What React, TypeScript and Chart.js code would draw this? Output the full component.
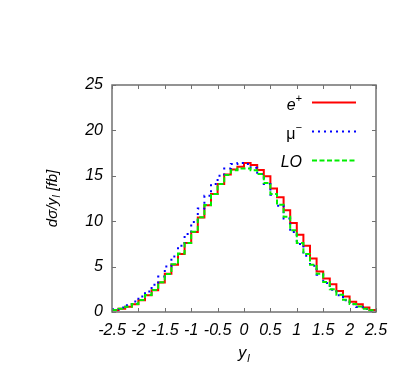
import React, { useEffect, useRef } from "react";
import { Chart, registerables } from "chart.js";

Chart.register(...registerables);

// Bin edges (width 0.125) from -2.5 to 2.5
const binEdges = [
  -2.5, -2.375, -2.25, -2.125, -2.0, -1.875, -1.75, -1.625, -1.5, -1.375,
  -1.25, -1.125, -1.0, -0.875, -0.75, -0.625, -0.5, -0.375, -0.25, -0.125,
  0.0, 0.125, 0.25, 0.375, 0.5, 0.625, 0.75, 0.875, 1.0, 1.125,
  1.25, 1.375, 1.5, 1.625, 1.75, 1.875, 2.0, 2.125, 2.25, 2.375, 2.5,
];

const ePlus = [
  0.2, 0.35, 0.57, 0.86, 1.3, 1.85, 2.4, 3.25, 4.2, 5.2,
  6.4, 7.6, 8.8, 10.4, 11.75, 13.0, 14.1, 15.15, 15.7, 16.0,
  16.4, 16.2, 15.65, 14.95, 13.6, 12.65, 11.2, 9.8, 8.5, 7.3,
  5.9, 4.45, 3.7, 3.05, 2.3, 1.72, 1.12, 0.85, 0.5, 0.22,
];

const muMinus = [
  0.3, 0.5, 0.75, 1.15, 1.7, 2.25, 3.0, 3.9, 5.0, 6.1,
  7.3, 8.6, 9.9, 11.4, 12.8, 14.1, 15.0, 15.8, 16.3, 16.4,
  16.3, 15.9, 15.2, 14.1, 12.9, 11.7, 10.3, 8.8, 7.5, 6.2,
  5.1, 4.1, 3.2, 2.45, 1.85, 1.3, 0.85, 0.55, 0.33, 0.15,
];

const lo = [
  0.22, 0.37, 0.59, 0.88, 1.32, 1.87, 2.42, 3.27, 4.19, 5.25,
  6.43, 7.6, 8.85, 10.43, 11.78, 13.0, 14.1, 15.1, 15.6, 15.8,
  15.8, 15.6, 15.2, 14.2, 13.0, 11.8, 10.5, 9.0, 7.6, 6.4,
  5.2, 4.2, 3.3, 2.5, 1.9, 1.35, 0.88, 0.6, 0.36, 0.18,
];

const xTickValues = [-2.5, -2, -1.5, -1, -0.5, 0, 0.5, 1, 1.5, 2, 2.5];
const xTickLabels = ["-2.5", "-2", "-1.5", "-1", "-0.5", "0", "0.5", "1", "1.5", "2", "2.5"];
const yTickValues = [0, 5, 10, 15, 20, 25];
const yTickLabels = ["0", "5", "10", "15", "20", "25"];

const legendNames = ["e", "\u03bc", "LO"];
const legendSups = ["+", "\u2212", ""];
const legendItalic = [true, false, true];

const FONT_FAMILY = '"Liberation Sans", Arial, Helvetica, sans-serif';

function toSteps(values: number[]) {
  return binEdges.map((x, i) => ({ x, y: values[Math.min(i, values.length - 1)] }));
}

const framePlugin = {
  id: "gnuFrame",
  afterDatasetsDraw(chart: any) {
    const { ctx, chartArea, scales } = chart;
    const { left, right, top, bottom } = chartArea;
    const xs = scales.x;
    const ys = scales.y;
    ctx.save();
    // frame
    ctx.strokeStyle = "#707070";
    ctx.lineWidth = 1.5;
    ctx.setLineDash([]);
    ctx.strokeRect(left, top, right - left, bottom - top);
    // inward ticks
    const tl = 4;
    ctx.beginPath();
    xTickValues.forEach((v) => {
      const px = Math.round(xs.getPixelForValue(v)) + 0.5;
      ctx.moveTo(px, bottom);
      ctx.lineTo(px, bottom - tl);
      ctx.moveTo(px, top);
      ctx.lineTo(px, top + tl);
    });
    yTickValues.forEach((v) => {
      const py = Math.round(ys.getPixelForValue(v)) + 0.5;
      ctx.moveTo(left, py);
      ctx.lineTo(left + tl, py);
      ctx.moveTo(right, py);
      ctx.lineTo(right - tl, py);
    });
    ctx.lineWidth = 1;
    ctx.stroke();

    ctx.fillStyle = "#000";
    // x title: y_l
    const cx = (left + right) / 2;
    ctx.font = `italic 16px ${FONT_FAMILY}`;
    const wy = ctx.measureText("y").width;
    ctx.font = `italic 11px ${FONT_FAMILY}`;
    const wl = ctx.measureText("l").width;
    const startX = cx - (wy + wl + 1) / 2;
    ctx.textAlign = "left";
    ctx.textBaseline = "alphabetic";
    ctx.font = `italic 16px ${FONT_FAMILY}`;
    ctx.fillText("y", startX, 358);
    ctx.font = `italic 11px ${FONT_FAMILY}`;
    ctx.fillText("l", startX + wy + 1, 362);

    // y title: dσ/y_l [fb], rotated
    ctx.save();
    const cy = (top + bottom) / 2;
    ctx.translate(57, cy);
    ctx.rotate(-Math.PI / 2);
    const big = `italic 15px ${FONT_FAMILY}`;
    const small = `italic 10px ${FONT_FAMILY}`;
    ctx.font = big;
    const w1 = ctx.measureText("dσ/y").width;
    const w3 = ctx.measureText(" [fb]").width;
    ctx.font = small;
    const w2 = ctx.measureText("l").width + 1;
    let sx = -(w1 + w2 + w3) / 2;
    ctx.font = big;
    ctx.fillText("dσ/y", sx, 0);
    sx += w1;
    ctx.font = small;
    ctx.fillText("l", sx + 0.5, 3);
    sx += w2;
    ctx.font = big;
    ctx.fillText(" [fb]", sx, 0);
    ctx.restore();

    // legend
    const legendRows = [
      { color: "#ff0000", dash: [] as number[], lineY: 102.5, textY: 110 },
      { color: "#0000ff", dash: [2, 4], lineY: 131.5, textY: 139 },
      { color: "#00ee00", dash: [5, 2.5], lineY: 160.5, textY: 166.5 },
    ];
    const textRight = 302;
    legendRows.forEach((r, i) => {
      const base = legendNames[i];
      const sup = legendSups[i];
      const st = legendItalic[i] ? "italic " : "";
      ctx.font = `${st}16px ${FONT_FAMILY}`;
      const wb = ctx.measureText(base).width;
      ctx.font = `italic 11px ${FONT_FAMILY}`;
      const ws = sup ? ctx.measureText(sup).width : 0;
      const x0 = textRight - wb - ws;
      ctx.font = `${st}16px ${FONT_FAMILY}`;
      ctx.fillText(base, x0, r.textY);
      if (sup) {
        ctx.font = `italic 11px ${FONT_FAMILY}`;
        ctx.fillText(sup, x0 + wb, r.textY - 8);
      }
      ctx.beginPath();
      ctx.strokeStyle = r.color;
      ctx.lineWidth = 2;
      ctx.setLineDash(r.dash);
      ctx.moveTo(312, r.lineY);
      ctx.lineTo(356, r.lineY);
      ctx.stroke();
      ctx.setLineDash([]);
    });
    ctx.restore();
  },
};

export default function App() {
  const canvasRef = useRef<HTMLCanvasElement | null>(null);

  useEffect(() => {
    const canvas = canvasRef.current;
    if (!canvas) return;
    const chart = new Chart(canvas, {
      type: "line",
      data: {
        datasets: [
          {
            label: "LO",
            data: toSteps(lo),
            borderColor: "#00ee00",
            borderWidth: 2,
            borderDash: [5, 2.5],
            stepped: "before",
            pointRadius: 0,
            fill: false,
            order: 0,
          },
          {
            label: "\u03bc\u2212",
            data: toSteps(muMinus),
            borderColor: "#0000ff",
            borderWidth: 2,
            borderDash: [2, 4],
            stepped: "before",
            pointRadius: 0,
            fill: false,
            order: 1,
          },
          {
            label: "e+",
            data: toSteps(ePlus),
            borderColor: "#ff0000",
            borderWidth: 2,
            stepped: "before",
            pointRadius: 0,
            fill: false,
            order: 2,
          },
        ],
      },
      options: {
        animation: false,
        responsive: false,
        devicePixelRatio: 1,
        layout: { padding: { left: 52, right: 31, top: 85, bottom: 18 } },
        plugins: {
          legend: { display: false },
          title: { display: false },
          tooltip: { enabled: false },
        },
        scales: {
          x: {
            type: "linear",
            min: -2.5,
            max: 2.5,
            grid: { display: false, drawTicks: false },
            border: { display: false },
            afterBuildTicks: (scale: any) => {
              scale.ticks = xTickValues.map((v) => ({ value: v }));
            },
            afterFit: (scale: any) => {
              scale.height = 40;
            },
            ticks: {
              autoSkip: false,
              maxRotation: 0,
              padding: 9,
              color: "#000",
              font: { family: FONT_FAMILY, size: 16, style: "italic" },
              callback: (v: any) => {
                const idx = xTickValues.indexOf(Number(v));
                return idx >= 0 ? xTickLabels[idx] : "";
              },
            },
          },
          y: {
            type: "linear",
            min: 0,
            max: 25,
            grid: { display: false, drawTicks: false },
            border: { display: false },
            afterBuildTicks: (scale: any) => {
              scale.ticks = yTickValues.map((v) => ({ value: v }));
            },
            afterFit: (scale: any) => {
              scale.width = 60;
            },
            ticks: {
              autoSkip: false,
              padding: 9,
              color: "#000",
              font: { family: FONT_FAMILY, size: 16, style: "italic" },
              callback: (v: any) => {
                const idx = yTickValues.indexOf(Number(v));
                return idx >= 0 ? yTickLabels[idx] : "";
              },
            },
          },
        },
      },
      plugins: [framePlugin],
    } as any);
    return () => chart.destroy();
  }, []);

  return (
    <div style={{ position: "absolute", left: 0, top: 0, width: 407, height: 370, background: "#fff" }}>
      <canvas ref={canvasRef} width={407} height={370} style={{ width: 407, height: 370, display: "block" }} />
    </div>
  );
}
